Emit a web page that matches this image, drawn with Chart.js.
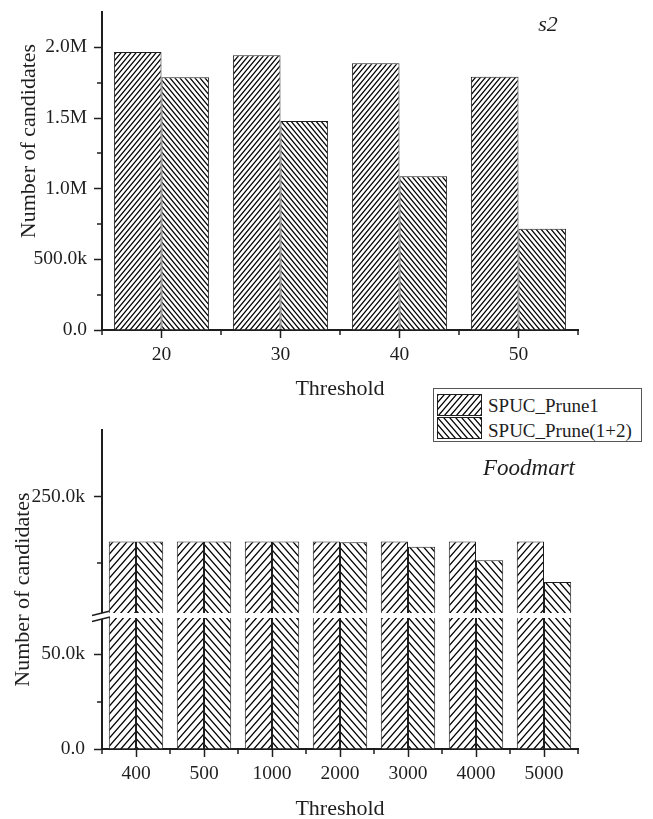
<!DOCTYPE html>
<html>
<head>
<meta charset="utf-8">
<script src="https://cdn.jsdelivr.net/npm/chart.js@4.4.1/dist/chart.umd.min.js"></script>
<style>
  html, body { margin: 0; padding: 0; background: #fff; width: 653px; height: 819px; overflow: hidden; }
  canvas { position: absolute; left: 0; }
  #legend {
    position: absolute; left: 433px; top: 388px; width: 209px; height: 54px;
    box-sizing: border-box; border: 1px solid #555; background: #fff;
    font-family: "Liberation Serif", "Times New Roman", serif; font-size: 19px; color: #1e1e1e;
  }
  #legend canvas { position: absolute; left: 3px; border: 1px solid #1e1e1e; }
  #legend span { position: absolute; left: 54px; line-height: 22px; white-space: nowrap; }
</style>
</head>
<body>
<canvas id="s2Chart" width="653" height="402" style="top:0"></canvas>
<canvas id="foodLower" width="653" height="407" style="top:415px"></canvas>
<canvas id="foodUpper" width="653" height="198" style="top:415px"></canvas>
<div id="legend">
  <canvas id="sw1" width="43" height="20" style="top:5px"></canvas>
  <span id="lg1" style="top:6px"></span>
  <canvas id="sw2" width="43" height="20" style="top:28px"></canvas>
  <span id="lg2" style="top:31px"></span>
</div>
<script>
// data
const seriesNames = ['SPUC_Prune1', 'SPUC_Prune(1+2)'];

const s2Thresholds = ['20', '30', '40', '50'];
const s2Prune1 = [1967000, 1944000, 1887000, 1791000];
const s2Prune12 = [1789000, 1479000, 1088000, 716000];

const foodThresholds = ['400', '500', '1000', '2000', '3000', '4000', '5000'];
const foodPrune1 = [233100, 233100, 233100, 233100, 233100, 233100, 233100];
const foodPrune12 = [233100, 233100, 233100, 232900, 231200, 226100, 217900];

// y ticks (labelled ones are multiples of the major step)
const s2Ticks = [0, 250000, 500000, 750000, 1000000, 1250000, 1500000, 1750000, 2000000];
const foodLowTicks = [0, 25000, 50000];
const foodHighTicks = [225000, 250000];

// axis ranges (bottom panel has a broken y axis)
const s2Max = 2250000;
const foodLowMax = 69000;
const foodHighMin = 206300;
const foodHighMax = 275000;

const INK = '#1e1e1e';
const SERIF = '"Liberation Serif", "Times New Roman", serif';

Chart.defaults.font.family = SERIF;
Chart.defaults.color = INK;

function hatch(ctx, dir, w, h) {
  const c = document.createElement('canvas');
  c.width = w;
  c.height = h;
  const g = c.getContext('2d');
  g.fillStyle = '#fff';
  g.fillRect(0, 0, w, h);
  g.strokeStyle = '#000';
  g.lineWidth = 1.25;
  g.beginPath();
  for (const dx of [-w, 0, w]) {
    if (dir === '/') {
      g.moveTo(dx - w / 2, h * 1.5);
      g.lineTo(dx + w * 1.5, -h / 2);
    } else {
      g.moveTo(dx - w / 2, -h / 2);
      g.lineTo(dx + w * 1.5, h * 1.5);
    }
  }
  g.stroke();
  return ctx.createPattern(c, 'repeat');
}

function fmt(v) {
  if (v === 0) return '0.0';
  if (v >= 1e6) return (v / 1e6).toFixed(1) + 'M';
  return (v / 1e3).toFixed(1) + 'k';
}

// minor ticks, free text, axis break
const decorations = {
  id: 'decorations',
  afterDraw(chart, args, opts) {
    const ctx = chart.ctx;
    const area = chart.chartArea;
    ctx.save();
    ctx.strokeStyle = INK;
    ctx.lineWidth = 1.5;

    const y = chart.scales.y;
    y.ticks.forEach((t) => {
      if (t.value % opts.major === 0) return;
      const py = Math.round(y.getPixelForValue(t.value));
      ctx.beginPath();
      ctx.moveTo(area.left - 5, py);
      ctx.lineTo(area.left, py);
      ctx.stroke();
    });

    const x = chart.scales.x;
    if (x.options.display) {
      for (let i = 0; i <= x.ticks.length; i++) {
        const px = Math.round(x.getPixelForValue(i - 0.5));
        ctx.beginPath();
        ctx.moveTo(px, area.bottom);
        ctx.lineTo(px, area.bottom + 5);
        ctx.stroke();
      }
    }

    if (opts.axisBreak) {
      const b = opts.axisBreak;
      ctx.fillStyle = '#fff';
      ctx.beginPath();
      ctx.moveTo(b.x0, b.y0);
      ctx.lineTo(b.x1, b.y0 - b.rise);
      ctx.lineTo(b.x1, b.y0 - b.rise + b.gap);
      ctx.lineTo(b.x0, b.y0 + b.gap);
      ctx.closePath();
      ctx.fill();
      ctx.beginPath();
      ctx.moveTo(b.x0, b.y0);
      ctx.lineTo(b.x1, b.y0 - b.rise);
      ctx.moveTo(b.x0, b.y0 + b.gap);
      ctx.lineTo(b.x1, b.y0 - b.rise + b.gap);
      ctx.stroke();
    }

    (opts.texts || []).forEach((t) => {
      ctx.save();
      ctx.translate(t.x, t.y);
      if (t.rotate) ctx.rotate(t.rotate);
      ctx.font = t.font;
      ctx.fillStyle = INK;
      ctx.textAlign = 'center';
      ctx.textBaseline = 'middle';
      ctx.fillText(t.text, 0, 0);
      ctx.restore();
    });
    ctx.restore();
  },
};

function yAxis(min, max, tickValues, major, labelPad) {
  return {
    min,
    max,
    border: { color: INK, width: 2 },
    grid: {
      drawOnChartArea: false,
      tickLength: 8,
      tickWidth: 1.5,
      tickColor: (c) => (c.tick && c.tick.value % major === 0 ? INK : 'transparent'),
    },
    ticks: {
      autoSkip: false,
      padding: labelPad,
      font: { size: 19.5 },
      callback: (v) => (v % major === 0 ? fmt(v) : ''),
    },
    afterBuildTicks: (s) => {
      s.ticks = tickValues.map((v) => ({ value: v }));
    },
    afterFit: (s) => {
      s.width = 102;
      s.paddingTop = 0;
      s.paddingBottom = 0;
    },
  };
}

function xAxis(height, show) {
  return {
    display: show,
    border: { color: INK, width: 2 },
    grid: { drawOnChartArea: false, offset: false, tickLength: 8, tickWidth: 1.5, tickColor: INK },
    ticks: { padding: 5, font: { size: 19.5 }, autoSkip: false, maxRotation: 0 },
    title: { display: true, text: 'Threshold', font: { size: 22 }, padding: { top: 0, bottom: 0 } },
    afterFit: (s) => {
      s.height = height;
      s.paddingLeft = 0;
      s.paddingRight = 0;
    },
  };
}

function bars(label, data, pattern, clip) {
  const ds = {
    label,
    data,
    backgroundColor: pattern,
    borderColor: INK,
    borderWidth: 1,
    categoryPercentage: 0.8,
    barPercentage: 1,
  };
  if (clip !== undefined) ds.clip = clip;
  return ds;
}

const baseOptions = {
  responsive: false,
  animation: false,
  events: [],
  plugins: { legend: { display: false }, tooltip: { enabled: false } },
};

// top panel: s2
const s2Ctx = document.getElementById('s2Chart').getContext('2d');
new Chart(s2Ctx, {
  type: 'bar',
  data: {
    labels: s2Thresholds,
    datasets: [
      bars(seriesNames[0], s2Prune1, hatch(s2Ctx, '/', 5, 6)),
      bars(seriesNames[1], s2Prune12, hatch(s2Ctx, '\\', 5, 6)),
    ],
  },
  options: {
    ...baseOptions,
    layout: { padding: { top: 12, right: 75, left: 0, bottom: 0 } },
    scales: { x: xAxis(72, true), y: yAxis(0, s2Max, s2Ticks, 500000, 7) },
    plugins: {
      ...baseOptions.plugins,
      decorations: {
        major: 500000,
        texts: [
          { text: 'Number of candidates', x: 29, y: 141, rotate: -Math.PI / 2, font: '22px ' + SERIF },
          { text: 's2', x: 548, y: 25, font: 'italic 22px ' + SERIF },
        ],
      },
    },
  },
  plugins: [decorations],
});

// bottom panel, lower segment (0 .. break)
const lowCtx = document.getElementById('foodLower').getContext('2d');
new Chart(lowCtx, {
  type: 'bar',
  data: {
    labels: foodThresholds,
    datasets: [
      bars(seriesNames[0], foodPrune1, hatch(lowCtx, '/', 7, 8), 0),
      bars(seriesNames[1], foodPrune12, hatch(lowCtx, '\\', 7, 8), 0),
    ],
  },
  options: {
    ...baseOptions,
    layout: { padding: { top: 203, right: 75, left: 0, bottom: 0 } },
    scales: { x: xAxis(73, true), y: yAxis(0, foodLowMax, foodLowTicks, 50000, 9) },
    plugins: {
      ...baseOptions.plugins,
      decorations: {
        major: 50000,
        axisBreak: { x0: 92, x1: 110, y0: 200.5, rise: 4.5, gap: 6 },
        texts: [
          { text: 'Number of candidates', x: 23.5, y: 174.5, rotate: -Math.PI / 2, font: '22px ' + SERIF },
          { text: 'Foodmart', x: 529, y: 54, font: 'italic 23px ' + SERIF },
        ],
      },
    },
  },
  plugins: [decorations],
});

// bottom panel, upper segment (break .. top)
const highCtx = document.getElementById('foodUpper').getContext('2d');
new Chart(highCtx, {
  type: 'bar',
  data: {
    labels: foodThresholds,
    datasets: [
      bars(seriesNames[0], foodPrune1, hatch(highCtx, '/', 7, 8), 0),
      bars(seriesNames[1], foodPrune12, hatch(highCtx, '\\', 7, 8), 0),
    ],
  },
  options: {
    ...baseOptions,
    layout: { padding: { top: 15, right: 75, left: 0, bottom: 0 } },
    scales: { x: xAxis(0, false), y: yAxis(foodHighMin, foodHighMax, foodHighTicks, 50000, 9) },
    plugins: { ...baseOptions.plugins, decorations: { major: 50000 } },
  },
  plugins: [decorations],
});

// legend
[['sw1', '/', 'lg1', 0], ['sw2', '\\', 'lg2', 1]].forEach(([id, dir, lg, i]) => {
  const c = document.getElementById(id).getContext('2d');
  c.fillStyle = hatch(c, dir, 6, 7);
  c.fillRect(0, 0, 43, 20);
  document.getElementById(lg).textContent = seriesNames[i];
});
</script>
</body>
</html>
